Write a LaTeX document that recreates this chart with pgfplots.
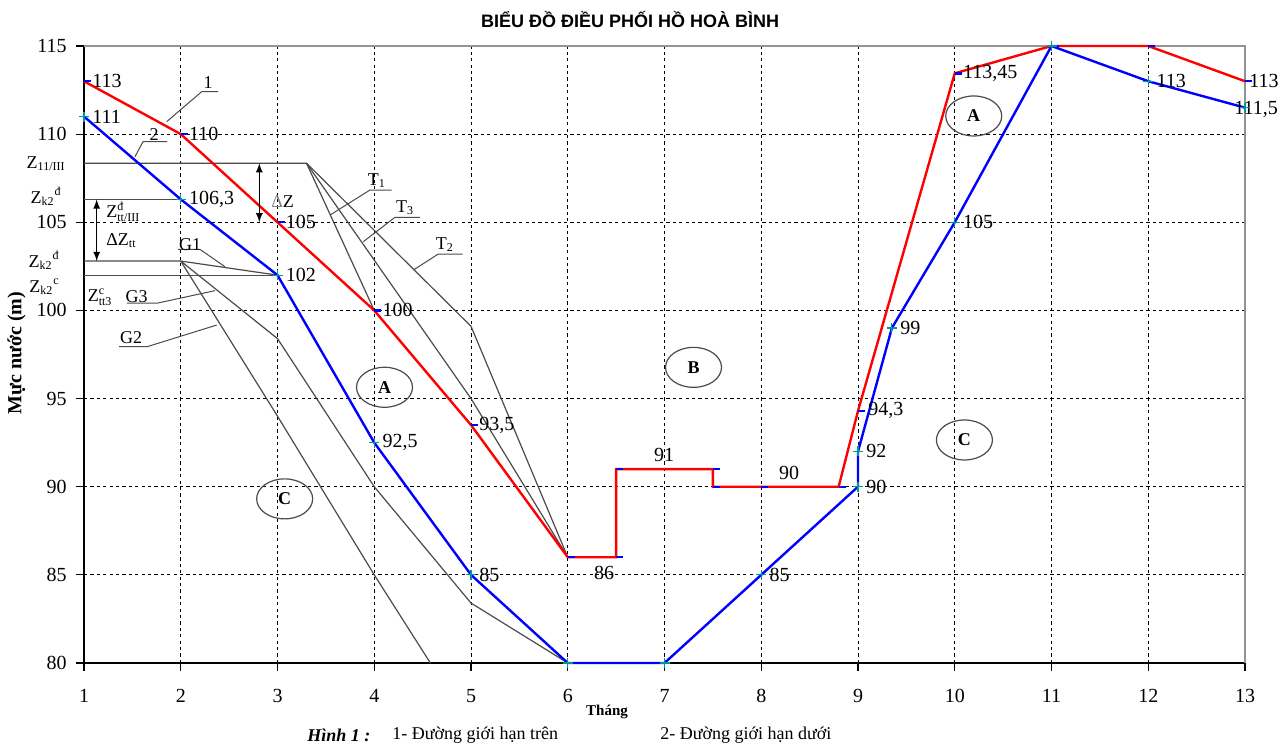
\documentclass[border=0pt]{standalone}
\usepackage{fontspec}
\setmainfont{Liberation Serif}
\newfontfamily\sansf{Liberation Sans}
\usepackage{pgfplots}
\pgfplotsset{compat=1.18}
\usetikzlibrary{shapes.geometric}

\definecolor{plusc}{RGB}{0,150,150}
\definecolor{gline}{RGB}{75,75,75}

\pgfdeclareplotmark{rdash}{\pgfpathmoveto{\pgfpointorigin}\pgfpathlineto{\pgfpoint{3.5pt}{0pt}}\pgfusepathqstroke}
\newcommand{\ssm}[1]{\mbox{\fontsize{6}{7}\selectfont #1}}

\tikzset{
  lab/.style={anchor=west, inner sep=1pt, xshift=3pt, font=\fontsize{10}{12}\selectfont},
  ann/.style={font=\fontsize{9}{10}\selectfont, inner sep=0pt},
  ell/.style={draw=gline, line width=0.6pt, ellipse, minimum width=28pt, minimum height=20pt, inner sep=0pt, font=\fontsize{9}{10}\selectfont\bfseries},
}

\begin{document}
\begin{tikzpicture}
\useasboundingbox (0,0) rectangle (643pt,373.5pt);
\begin{axis}[
  at={(42pt,42pt)}, anchor=south west,
  scale only axis, width=580.5pt, height=308.5pt,
  xmin=1, xmax=13, ymin=80, ymax=115,
  xtick={1,...,13}, ytick={80,85,...,115},
  axis x line*=bottom, axis y line*=left,
  axis line style={black, line width=1pt},
  tick align=outside, major tick length=4pt,
  tick style={black, line width=0.6pt},
  grid=major,
  major grid style={black, line width=0.5pt, dash pattern=on 1.6pt off 1.6pt},
  tick label style={font=\fontsize{10}{12}\selectfont},
  /pgf/number format/assume math mode=true,
  xticklabel style={yshift=-5.5pt},
  yticklabel style={xshift=-1.2pt},
  clip=false,
  title={\sansf\bfseries BIỂU ĐỒ ĐIỀU PHỐI HỒ HOÀ BÌNH},
  title style={at={(axis description cs:0.4703,1.0421)}, anchor=center, yshift=-6pt, font=\fontsize{9}{11}\selectfont},
  xlabel={Tháng},
  xlabel style={at={(axis description cs:0.4505,-0.0794)}, anchor=center, font=\fontsize{7.5}{9}\selectfont\bfseries},
  ylabel={Mực nước (m)},
  ylabel style={at={(axis description cs:-0.058,0.502)}, anchor=center, font=\fontsize{10}{12}\selectfont\bfseries},
]
% border top/right
\draw[gray!85, line width=1pt] (rel axis cs:0,1) -- (rel axis cs:1,1) -- (rel axis cs:1,0);

% dispatch lines
\addplot[gline, line width=0.6pt] coordinates {(1,108.35) (3.3,108.35) (4,100)};
\addplot[gline, line width=0.6pt] coordinates {(3.3,108.35) (5,95) (6,86)};
\addplot[gline, line width=0.6pt] coordinates {(3.3,108.35) (5,99.1) (6,86)};
\addplot[gline, line width=0.6pt] coordinates {(1,106.3) (2,106.3)};
\addplot[gline, line width=0.6pt] coordinates {(1,102.8) (2,102.8) (3,102)};
\addplot[gline, line width=0.6pt] coordinates {(2,102.8) (3,98.4) (4,90) (5,83.4) (6,80)};
\addplot[gline, line width=0.6pt] coordinates {(2,102.8) (3,94) (4,85) (4.58,80)};
\addplot[gline, line width=0.6pt] coordinates {(1,102) (3,102)};

% 1 - upper limit
\addplot[red, line width=1.2pt, mark=rdash, mark options={blue, line width=1.2pt}] coordinates {
(1,113) (2,110) (3,105) (4,100) (5,93.5) (6,86) (6.5,86) (6.5,91) (7.5,91) (7.5,90) (8,90) (8.8,90) (9,94.3) (10,113.45) (11,115) (12,115) (13,113)};
% 2 - lower limit
\addplot[blue, line width=1.2pt, mark=+, mark size=2.5pt, mark options={plusc, line width=0.6pt}] coordinates {
(1,111) (2,106.3) (3,102) (4,92.5) (5,85) (6,80) (7,80) (8,85) (9,90) (9,92) (9.35,99) (10,105) (11,115) (12,113) (13,111.5)};

% data labels
\node[lab] at (axis cs:1,113) {113};
\node[lab] at (axis cs:1,111) {111};
\node[lab] at (axis cs:2,110) {110};
\node[lab] at (axis cs:2,106.3) {106,3};
\node[lab] at (axis cs:3,105) {105};
\node[lab] at (axis cs:3,102) {102};
\node[lab] at (axis cs:4,100) {100};
\node[lab] at (axis cs:4,92.5) {92,5};
\node[lab] at (axis cs:5,93.5) {93,5};
\node[lab] at (axis cs:5,85) {85};
\node[lab, anchor=center, xshift=0pt] at (axis cs:6.313,85.11) {86};
\node[lab, anchor=center, xshift=0pt] at (axis cs:6.933,91.8) {91};
\node[lab, anchor=center, xshift=0pt] at (axis cs:8.225,90.78) {90};
\node[lab] at (axis cs:8,85) {85};
\node[lab] at (axis cs:9,90) {90};
\node[lab] at (axis cs:9,92) {92};
\node[lab, xshift=1pt] at (axis cs:9,94.3) {94,3};
\node[lab] at (axis cs:9.35,99) {99};
\node[lab] at (axis cs:10,105) {105};
\node[lab] at (axis cs:10,113.45) {113,45};
\node[lab] at (axis cs:12,113) {113};
\node[lab, xshift=-2pt] at (axis cs:13,113) {113};
\node[lab, xshift=-9.5pt] at (axis cs:13,111.4) {111,5};

% ellipses
\node[ell] at (axis cs:4.106,95.64) {A};
\node[ell] at (axis cs:7.30,96.77) {B};
\node[ell] at (axis cs:3.074,89.31) {C};
\node[ell] at (axis cs:10.196,111.03) {A};
\node[ell] at (axis cs:10.10,92.65) {C};

% left level labels
\node[ann, anchor=east] at (axis cs:0.814,108.3) {Z\textsubscript{11/III}};
\node[ann, anchor=east] at (axis cs:0.773,106.45) {Z\textsubscript{k2}\textsuperscript{đ}};
\node[ann, anchor=east] at (axis cs:0.752,102.85) {Z\textsubscript{k2}\textsuperscript{đ}};
\node[ann, anchor=east] at (axis cs:0.752,101.35) {Z\textsubscript{k2}\textsuperscript{c}};
\node[ann, anchor=west] at (axis cs:1.227,105.6) {Z$^{\ssm{đ}}_{\ssm{tt/III}}$};
\node[ann, anchor=west] at (axis cs:1.227,103.95) {ΔZ\textsubscript{tt}};
\node[ann, anchor=west] at (axis cs:1.035,100.75) {Z$^{\ssm{c}}_{\ssm{tt3}}$};
\node[ann, anchor=west] at (axis cs:2.933,106.15) {\textcolor{gray}{Δ}Z};

% arrows
\draw[latex-latex, line width=0.6pt] (axis cs:2.812,108.35) -- (axis cs:2.812,105.0);
\draw[latex-latex, line width=0.6pt] (axis cs:1.131,106.3) -- (axis cs:1.131,102.8);

% leaders
\draw[gline, line width=0.5pt] (axis cs:2.387,112.41) -- (axis cs:2.217,112.41) -- (axis cs:1.855,110.71);
\node[ann] at (axis cs:2.283,112.9) {1};
\draw[gline, line width=0.5pt] (axis cs:1.858,109.57) -- (axis cs:1.610,109.57) -- (axis cs:1.527,108.72);
\node[ann] at (axis cs:1.724,109.95) {2};
\draw[gline, line width=0.5pt] (axis cs:4.180,106.83) -- (axis cs:3.956,106.83) -- (axis cs:3.543,105.41);
\node[ann] at (axis cs:4.028,107.34) {T\textsubscript{1}};
\draw[gline, line width=0.5pt] (axis cs:4.473,105.28) -- (axis cs:4.214,105.28) -- (axis cs:3.887,103.90);
\node[ann] at (axis cs:4.318,105.81) {T\textsubscript{3}};
\draw[gline, line width=0.5pt] (axis cs:4.914,103.20) -- (axis cs:4.662,103.20) -- (axis cs:4.404,102.29);
\node[ann] at (axis cs:4.731,103.71) {T\textsubscript{2}};
\draw[gline, line width=0.5pt] (axis cs:1.972,103.46) -- (axis cs:2.199,103.46) -- (axis cs:2.457,102.48);
\node[ann] at (axis cs:2.096,103.75) {G1};
\draw[gline, line width=0.5pt] (axis cs:1.444,100.41) -- (axis cs:1.755,100.41) -- (axis cs:2.354,101.12);
\node[ann] at (axis cs:1.545,100.76) {G3};
\draw[gline, line width=0.5pt] (axis cs:1.362,97.94) -- (axis cs:1.651,97.94) -- (axis cs:2.372,99.17);
\node[ann] at (axis cs:1.486,98.44) {G2};

% caption
\node[anchor=west, inner sep=0pt, font=\fontsize{9}{11}\selectfont\bfseries\itshape] at (axis description cs:0.1921,-0.1167) {Hình 1 :};
\node[anchor=west, inner sep=0pt, font=\fontsize{9}{11}\selectfont] at (axis description cs:0.2653,-0.1167) {1- Đường giới hạn trên};
\node[anchor=west, inner sep=0pt, font=\fontsize{9}{11}\selectfont] at (axis description cs:0.4961,-0.1167) {2- Đường giới hạn dưới};
\end{axis}
\end{tikzpicture}
\end{document}
